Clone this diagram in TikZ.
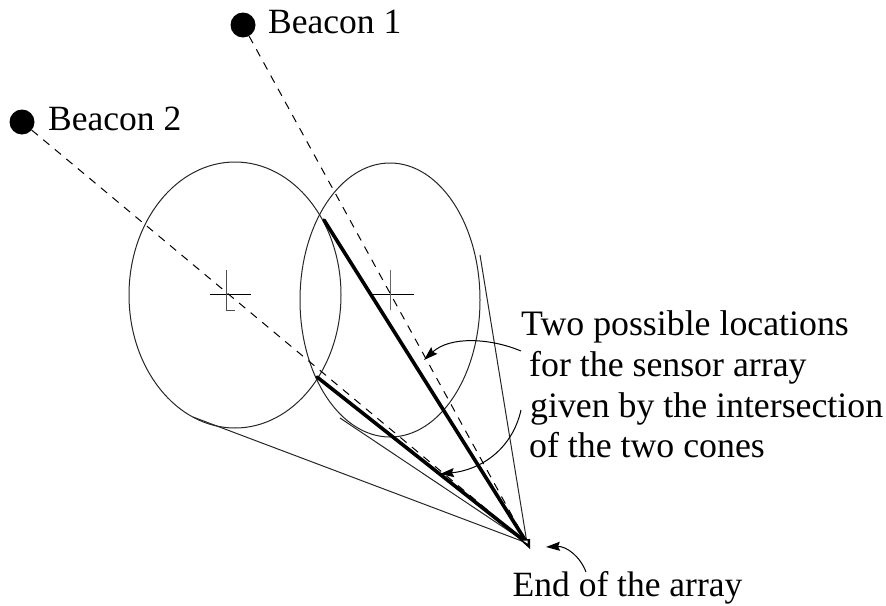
\documentclass[tikz,border=0pt]{standalone}
\usepackage{fontspec}
\setmainfont{Liberation Serif}
\usetikzlibrary{arrows.meta}
\tikzset{
 lab/.style={anchor=base west,inner sep=0pt,font=\fontsize{35.5}{40}\selectfont},
 blocklab/.style={anchor=base west,inner sep=0pt,font=\fontsize{35.8}{40}\selectfont},
 thin line/.style={line width=1pt,black!85},
 thick line/.style={line width=3.6pt,black},
 dash line/.style={line width=1pt,dash pattern=on 8pt off 7pt},
 beacon/.style={circle,fill=black,minimum size=25pt,inner sep=0pt},
 pointer/.style={line width=1pt,-{Stealth[length=14pt,width=9pt,inset=2pt]}}
}
\begin{document}
\begin{tikzpicture}[x=1pt,y=-1pt]
\useasboundingbox (0,0) rectangle (886,605);
\node[beacon] (b1) at (243,25) {};
\node[beacon] (b2) at (22,122) {};
\coordinate (end) at (527,543);
\coordinate (t1) at (324,220);
\coordinate (t2) at (317,377);
\coordinate (c1) at (193,417);
\coordinate (c2) at (340,418);
\coordinate (c3) at (480,255);
% ellipses
\draw[thin line] (235,295) ellipse [x radius=106,y radius=133];
\draw[thin line] (390,300) ellipse [x radius=90,y radius=137];
% crosses
\draw[line width=1pt] (210,294) -- (251,294);
\draw[line width=1pt,black!70] (226.7,270) -- (226.7,310.5) -- (234.5,310.5);
\draw[line width=1pt] (372,294) -- (414,294);
\draw[line width=1pt,black!60] (390,270) -- (390,310);
% cone lines
\draw[thin line] (c1) -- (end);
\draw[thin line] (c2) -- (end);
\draw[thin line] (c3) -- (end);
\draw[dash line] (b1) -- (end);
\draw[dash line] (b2) -- (end);
\draw[thick line,line cap=round] (t1) -- (end);
\draw[thick line,line cap=round] (t2) -- (end);
\fill (519,539) -- (530,539) -- (530,549) -- cycle;
\fill[white] (523,540.5) -- (527.5,540.5) -- (527.5,543.5) -- cycle;
% labels
\node[lab] (l1) at (268,33) {Beacon 1};
\node[lab] (l2) at (48,130) {Beacon 2};
\node[blocklab] (t1a) at (521,335) {Two possible locations};
\node[blocklab] (t1b) at (529,376) {for the sensor array};
\node[blocklab] (t1c) at (530,417) {given by the intersection};
\node[blocklab] (t1d) at (529,457) {of the two cones};
\node[lab] (t2a) at (512.5,596) {End of the array};
% pointers
\coordinate (p1) at (521,351);
\coordinate (p1e) at (424,360);
\coordinate (p2) at (521,410);
\coordinate (p2e) at (440,474);
\coordinate (p3) at (586,572);
\coordinate (p3e) at (546,547);
\draw[pointer] (p1) .. controls (490,338) and (450,336) .. (p1e);
\draw[pointer] (p2) .. controls (512,450) and (480,470) .. (p2e);
\draw[pointer] (p3) .. controls (580,556) and (566,546) .. (p3e);
\end{tikzpicture}
\end{document}
